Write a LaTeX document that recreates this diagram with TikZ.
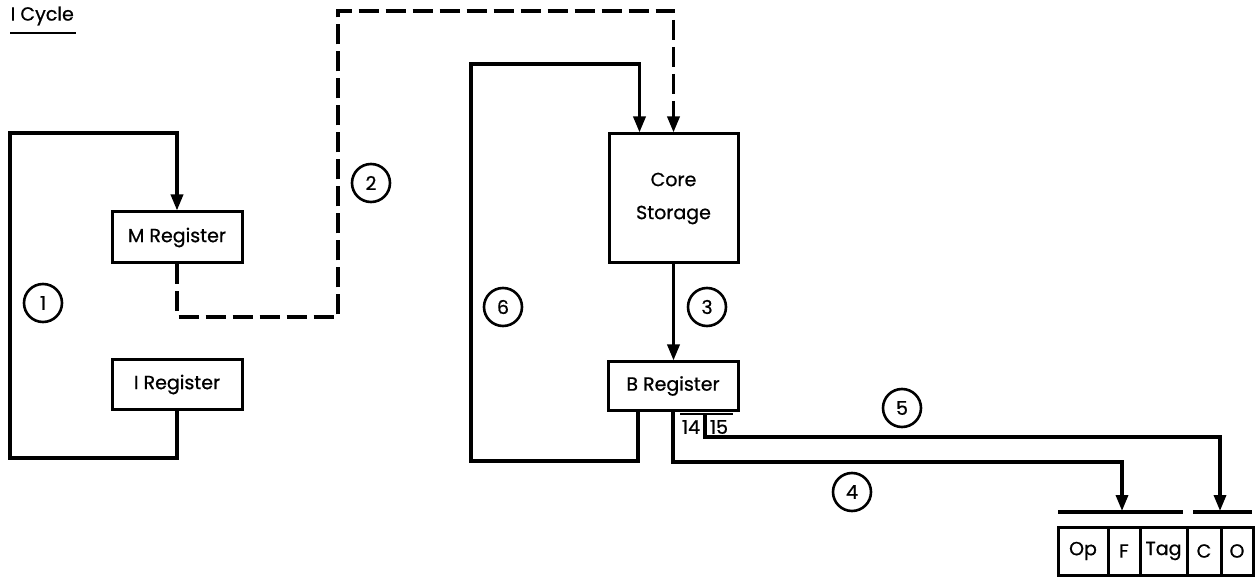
\documentclass[tikz,border=0pt]{standalone}
\usepackage{fontspec}
\setmainfont{Poppins}[FakeBold=0.7]
\usetikzlibrary{arrows.meta}
\begin{document}
\begin{tikzpicture}[x=1pt,y=-1pt,
  line width=3.4pt,
  reg/.style={draw, line width=3pt, font=\fontsize{19}{22}\selectfont, inner sep=0pt},
  fld/.style={draw, line width=3pt, minimum height=48pt, inner sep=0pt, font=\fontsize{19}{22}\selectfont},
  num/.style={draw, circle, line width=2.6pt, minimum size=38pt, inner sep=0pt, font=\fontsize{19}{22}\selectfont},
  lbl/.style={inner sep=0pt, font=\fontsize{19}{22}\selectfont},
  arr/.style={-{Triangle[length=16pt,width=12pt]}},
  dsh/.style={dash pattern=on 20pt off 7pt}
]
\useasboundingbox (0,0) rectangle (1256,577);

% title
\node[lbl, anchor=west] (title) at (9,16) {I Cycle};
\coordinate (ul1) at (10,33);
\coordinate (ul2) at (76,33);
\draw[line width=2.4pt] (ul1) -- (ul2);

% registers
\node[reg, minimum width=130pt, minimum height=51pt] (M) at (177,237.5) {M Register};
\node[reg, minimum width=130pt, minimum height=49pt] (I) at (177,384.5) {I Register};
\node[reg, minimum width=129pt, minimum height=129pt, align=center] (core) at (673.5,198.5) {Core\\[11pt]Storage};
\node[reg, minimum width=130pt, minimum height=48pt] (B) at (673,386) {B Register};

% fields
\node[fld, minimum width=50pt] (op) at (1083,551) {Op};
\node[fld, minimum width=32pt] (f) at (1124,551) {F};
\node[fld, minimum width=47pt] (tag) at (1163.5,551) {Tag};
\node[fld, minimum width=34pt] (c) at (1204,551) {C};
\node[fld, minimum width=32pt] (o) at (1237,551) {O};

\coordinate (bar1a) at (1058,512);
\coordinate (bar1b) at (1183,512);
\coordinate (bar2a) at (1193,512);
\coordinate (bar2b) at (1252,512);
\draw (bar1a) -- (bar1b);
\draw (bar2a) -- (bar2b);

% loop 1
\coordinate (l1bl) at (10,458);
\coordinate (l1tl) at (10,133);
\draw[arr] (I.south) |- (l1bl) -- (l1tl) -| (M.north);

% path 2 (dashed)
\coordinate (d1) at (338,317);
\coordinate (d2) at (338,11);
\draw[dsh, arr] (M.south) |- (d1) -- (d2) -| (core.north);

% loop 6
\coordinate (l6bl) at (471,461);
\coordinate (l6tl) at (471,64);
\draw[arr] ([xshift=-35pt]B.south) |- (l6bl) -- (l6tl) -| ([xshift=-34pt]core.north);

% path 3
\draw[arr] (core.south) -- (core.south |- B.north);

% path 4
\coordinate (k4) at (1122,462);
\coordinate (f4) at (1122,511);
\draw[arr] (B.south) |- (k4) -- (f4);

% path 5
\coordinate (s5) at (705,414);
\coordinate (k5) at (1220,437);
\coordinate (f5) at (1220,511);
\draw[arr] (s5) |- (k5) -- (f5);

% bit labels
\coordinate (ov1) at (680,414);
\coordinate (ov2) at (733,414);
\draw[line width=2.4pt] (ov1) -- (ov2);
\node[lbl] (b14) at (691,427) {14};
\node[lbl] (b15) at (719,427) {15};

% step numbers
\node[num] (n1) at (43,303) {1};
\node[num] (n2) at (371,183) {2};
\node[num] (n3) at (707,307) {3};
\node[num] (n4) at (852,492) {4};
\node[num] (n5) at (902,408) {5};
\node[num] (n6) at (503,307) {6};
\end{tikzpicture}
\end{document}
